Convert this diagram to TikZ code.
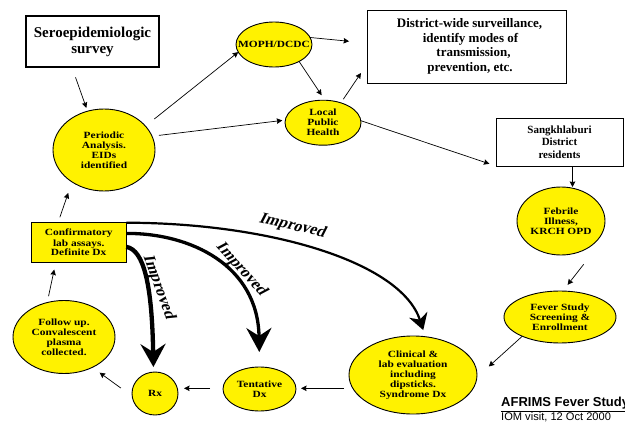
\documentclass[tikz,border=0pt]{standalone}
\usepackage{fontspec}
\setmainfont{Liberation Serif}
\newfontfamily\yfam[FakeStretch=1.2]{Liberation Serif}
\newfontfamily\impfam[FakeSlant=0.25]{Liberation Serif}
\newfontfamily\arialfam{Liberation Sans}
\usetikzlibrary{shapes.geometric,arrows.meta}
\tikzset{
  yell/.style={ellipse,draw=black,fill=yellow,line width=.9pt,inner sep=-45pt,outer sep=0pt,align=center,
    font=\fontsize{9.5}{10}\selectfont\yfam\bfseries},
  rbox/.style={rectangle,draw=black,fill=white,line width=1pt,inner sep=0pt,outer sep=0pt,align=center},
  arr/.style={draw=black,line width=.7pt,-{Stealth[length=5.5pt,width=5.5pt,inset=.6pt]}},
  imp/.style={font=\fontsize{16}{18}\selectfont\impfam\bfseries,inner sep=0pt},
  curveA/.style={draw=black,line width=2.2pt,-{Stealth[length=16pt,width=19pt,inset=5pt]}},
  curveB/.style={draw=black,line width=3.3pt,-{Stealth[length=24pt,width=25pt,inset=8pt]}},
  curveC/.style={draw=black,line width=4.3pt,-{Stealth[length=23pt,width=25pt,inset=8pt]}}
}
\begin{document}
\begin{tikzpicture}[x=1pt,y=-1pt]
\useasboundingbox (0,0) rectangle (625,423);
% rectangles
\node[rbox,line width=1.4pt,minimum width=133pt,minimum height=51pt,font=\fontsize{15}{16}\selectfont\bfseries] (sero) at (92.5,41.5) {Seroepidemiologic\\survey};
\node[rbox,minimum width=199pt,minimum height=73pt,font=\fontsize{13}{14.5}\selectfont\bfseries] (district) at (466.5,46.5) {\hspace*{6pt}District-wide surveillance,\\\hspace*{8pt}identify modes of\\\hspace*{14pt}transmission,\\\hspace*{7pt}prevention, etc.};
\node[rbox,minimum width=127pt,minimum height=48pt,font=\fontsize{11}{12.5}\selectfont\bfseries] (sang) at (559.5,142) {Sangkhlaburi\\District\\residents};
\node[rbox,fill=yellow,minimum width=95.3pt,minimum height=40pt,font=\fontsize{9.5}{10}\selectfont\yfam\bfseries] (confirm) at (78.7,242.7) {Confirmatory\\lab assays.\\Definite Dx};
% ellipses
\node[yell,minimum width=102pt,minimum height=82pt] (periodic) at (104,150) {Periodic\\Analysis.\\EIDs\\identified};
\node[yell,minimum width=76pt,minimum height=45pt] (moph) at (274,44.5) {MOPH/DCDC};
\node[yell,minimum width=76pt,minimum height=45pt] (local) at (323,122.7) {Local\\Public\\Health};
\node[yell,minimum width=88pt,minimum height=68pt] (febrile) at (561,221) {Febrile\\Illness,\\KRCH OPD};
\node[yell,minimum width=112pt,minimum height=52pt] (fever) at (560,317) {Fever Study\\Screening \&\\Enrollment};
\node[yell,minimum width=128pt,minimum height=78pt] (clinical) at (413,375) {Clinical \&\\lab evaluation\\including\\dipsticks.\\Syndrome Dx};
\node[yell,minimum width=73pt,minimum height=44pt] (tentative) at (259.5,389) {Tentative\\Dx};
\node[yell,minimum width=46pt,minimum height=43pt] (rx) at (155,393.5) {Rx};
\node[yell,minimum width=102pt,minimum height=73pt] (follow) at (64,337) {Follow up.\\Convalescent\\plasma\\collected.};
% helper coordinates
\coordinate (vx) at (572.5,0);
\coordinate (hy) at (0,388.3);
\coordinate (febstart) at (583.7,264.3);
% thin connectors
\draw[arr,shorten <=11pt,shorten >=3.5pt] (sero.-129) -- (periodic.113.8);
\draw[arr,shorten <=11.4pt] (periodic.30.3) -- (moph.192);
\draw[arr,shorten <=7pt,shorten >=3pt] (periodic.16.4) -- (local.176.4);
\draw[arr,shorten >=18pt] (moph.11.9) -- (district.178);
\draw[arr,shorten >=6pt] (moph.-34.2) -- (local.85);
\draw[arr,shorten <=4.4pt,shorten >=10.8pt] (local.48.4) -- (district.190);
\draw[arr,shorten >=7pt] (local.3) -- (sang.south west);
\draw[arr] (sang.south -| vx) -- (febrile.north -| vx);
\draw[arr,shorten >=7.9pt] (febstart) -- (fever.84.5);
\draw[arr,shorten >=16pt] (fever.207.2) -- (clinical.-2.7);
\draw[arr,shorten <=5pt,shorten >=5pt] (clinical.west |- hy) -- (tentative.east |- hy);
\draw[arr,shorten <=13pt,shorten >=6pt] (tentative.west |- hy) -- (rx.east |- hy);
\draw[arr,shorten <=14pt,shorten >=9pt] (rx.187.4) -- (follow.-47.4);
\draw[arr,shorten <=6.5pt,shorten >=7pt] (follow.116.2) -- (confirm.221);
\draw[arr,shorten <=5.7pt,shorten >=11.7pt] (confirm.136.1) -- (periodic.225);
% thick curves
\draw[curveA,shorten >=7pt] (confirm.north east) .. controls (270,223) and (401,262) .. (clinical.72.6);
\draw[curveB,shorten >=15pt] (confirm.11.85) .. controls (190,233) and (258,265) .. (tentative.north);
\draw[curveC,shorten >=5pt] (confirm.-5.6) .. controls (144,250) and (152,285) .. (rx.94.5);
% labels
\node[imp,rotate=-13] (impA) at (292,226) {Improved};
\node[imp,rotate=-48] (impB) at (241,269) {Improved};
\node[imp,rotate=-70] (impC) at (158.5,286.7) {Improved};
\node[inner sep=0pt,anchor=base west,font=\fontsize{13}{14}\selectfont\arialfam\bfseries] (afrims) at (501,406.7) {\underline{AFRIMS Fever Study}};
\node[inner sep=0pt,anchor=base west,font=\fontsize{11.1}{13}\selectfont\arialfam] (iom) at (501,420.7) {IOM visit, 12 Oct 2000};
\end{tikzpicture}
\end{document}
